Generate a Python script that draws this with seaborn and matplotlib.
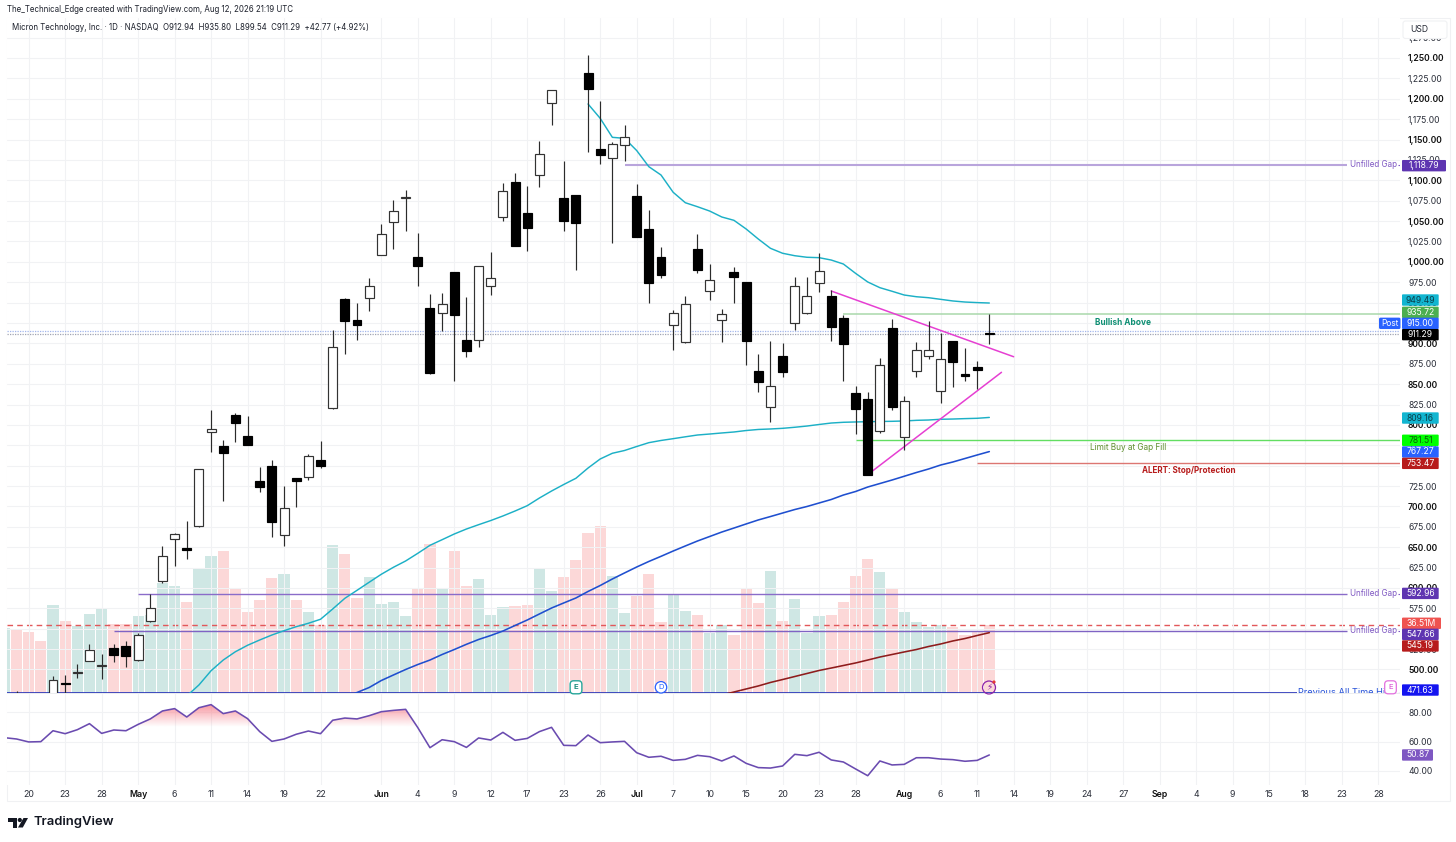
import numpy as np
import pandas as pd
import matplotlib
matplotlib.use("Agg")
import matplotlib.pyplot as plt
import seaborn as sns
from matplotlib.patches import FancyBboxPatch, Rectangle, Polygon, Circle
from matplotlib.path import Path
from matplotlib.transforms import IdentityTransform
from matplotlib.ticker import FixedLocator

# ---------- data ----------
first_day = -4
opens = [440,462,450,455,465,483,496.2,510.4,504.4,526,529.2,511.6,559.9,608.9,660.1,649.4,676,791.7,774.1,812.5,786.8,731.6,749.6,664.6,734.5,735.7,756.6,820.4,954.8,928.7,956,1008.4,1049.2,1078.4,1005.9,943.4,937.2,987.2,904.1,903.8,970.7,1054.6,1098.3,1059.9,1106.9,1195.2,1078.7,1081.6,1231.6,1138,1127,1143.7,1080.7,1040.3,1005.9,922.2,901.7,1015.7,964.2,928.3,987.5,974.9,866.1,821.6,884.5,924.6,937.2,974,957.7,931.5,839.1,831.8,792.9,918.8,785.5,865.7,884.1,842,902.5,862.4,871,912.94]
highs = [455,474,455,465,492,493.2,506.4,531.3,518.6,531,535,544.4,592.6,651.5,667,682.1,746.5,818.3,781.5,814.2,811,748.7,756.6,725.1,735,764.3,779.9,916.4,955.5,949.1,980.2,1046,1075.8,1088.1,1035,960.5,962.1,988,956.5,995.5,1011.7,1096.3,1109.3,1093,1147.8,1211,1123.3,1082,1253.7,1197.3,1147.3,1167.5,1095.5,1063.6,1017.8,940.9,958.1,1034.1,997,942.5,994,975.5,886.6,902.9,900.1,981.8,981.8,1010.5,965.8,934.8,847.7,840.7,881.7,929.9,835.8,901.7,927.8,912.3,903,894,878,935.8]
lows = [430,440,430,440,460,468,490,510,488.3,508.8,502.7,510.4,557.9,605.7,627.3,635.5,675,767.1,706.7,778.7,775,718.1,662.9,651.8,699.7,732.4,747.1,820,887.3,904.1,940.1,1008,1015.7,1037.8,970.7,863,915.5,854.2,882.9,895.2,959.7,1050.4,1019,1013.3,1092.2,1167.8,1038.2,990,1135.1,1120.4,1022.7,1124,1030,949.9,979.8,891.9,900.1,986.7,953.2,902,949.1,873.1,840.3,803.6,858.4,916.4,936,963.4,903.3,854.2,788.8,738,789.7,818.3,769.2,858.4,880.5,826.5,846.8,853.8,844,899.54]
closes = [450,455,445,450,486.7,482.6,496.8,524.3,505,517.8,516.6,542,575.8,639.6,665.8,646.2,745.9,794.6,765.5,802.3,775,723.8,680.9,698.4,731.2,761.5,750,895.2,927.4,922.5,970,1034.1,1062.7,1079,994.9,863.3,947.9,934.8,891,994.9,980.2,1086.5,1019.4,1041.9,1132.6,1210.4,1050.1,1047.3,1212,1131,1144.2,1152.7,1030.8,974.4,983.9,936.9,947.9,990.4,978.1,935.6,981.8,903.3,852.3,848.1,864.5,970,958.5,988.8,920.1,899.2,819.5,738.5,873.5,822.3,829,891.5,892.2,880.5,876.8,860.3,867.7,911.29]
volumes = [34.8,34.2,32.6,28.2,47.1,38.8,36.0,42.3,45.7,37.0,37.0,41.1,41.8,58.6,57.0,48.7,66.8,72.8,75.6,56.1,43.2,49.7,61.5,63.3,49.9,43.4,36.5,78.7,74.2,50.8,62.1,47.8,48.7,41.1,56.2,79.2,55.5,75.5,57.0,60.8,41.8,45.9,46.6,47.1,66.5,54.3,61.7,70.9,85.3,89.0,62.4,43.0,52.0,63.5,38.1,52.2,43.9,42.0,32.4,36.3,31.4,56.1,48.0,65.1,38.6,50.4,32.4,41.1,41.8,48.7,62.6,71.6,64.7,55.9,43.4,38.2,35.6,36.5,35.3,31.2,32.8,36.51]
rsi_values = [62.6,61.7,59.7,59.9,67.3,65.3,68.0,72.1,65.5,67.8,67.3,71.6,75.3,80.7,82.3,76.6,82.9,85.0,78.9,80.7,75.5,66.7,60.1,61.7,64.9,67.1,65.3,74.4,75.9,75.3,77.5,80.2,81.1,81.8,69.4,55.8,61.2,59.9,56.0,62.4,61.0,66.2,60.8,62.1,66.7,69.6,57.4,57.2,64.4,59.2,59.7,60.1,52.4,49.3,50.0,47.2,47.9,50.6,49.7,46.8,50.2,45.2,42.3,42.0,43.4,51.3,50.4,52.7,47.5,46.1,41.4,36.8,46.8,44.1,44.5,49.0,49.0,48.1,47.7,46.6,47.2,50.87]

ma_short_start = 44
ma_short = [1193.6,1176,1152.7,1151.5,1136.5,1116.7,1106.5,1085.3,1072.5,1067.6,1062.3,1055,1050.9,1040.3,1028,1016.6,1010.5,1007.5,1005.6,1005.1,1002.2,997.3,985.9,975.3,968.3,963.9,959.3,957.2,956,954,952,950.7,950,949.49]
ma_mid_start = 11
ma_mid = [467.5,481,498.5,511.6,521.8,529.7,536.2,542.3,547.6,552.5,556.7,561.6,574.2,587.3,597.1,607,616.8,625.4,633.1,642.5,652.3,659.2,666.2,672.3,677.6,682.7,688.3,694.4,700.9,710.3,718.9,726.9,734.5,747.1,758.2,765.2,768.6,773.5,778.2,780.9,783.1,785.4,787.6,788.8,790.1,791.3,793.1,794.4,795,795.8,797.1,798.6,800.5,802.3,803.2,803.6,803.9,804.2,804.4,804.8,805.6,806,806.9,807.2,807.7,808.1,809.16]
ma_long_start = 24
ma_long = [465,471.8,477.9,486.5,493.3,500,506.1,511.6,518.4,524.5,530.9,536.8,541.7,547.2,554,560.7,568.1,575.4,581.6,587.7,595.7,603,611,618.4,625.7,632.5,638.8,645.3,651.5,657.6,663.1,668.6,673.5,678.5,683.4,687.6,691.9,696.2,699.9,704.2,708.5,714,718.3,723.8,728.1,732.4,737,741.6,745.9,750.8,754.5,758.8,763.1,767.27]
ma_vol_start = 55
ma_vol = [468.7,472.4,476.1,479.8,484.1,487.7,491.4,495.1,498.8,501.8,504.9,508,511.6,515.3,518.4,521.5,524.5,528.2,531.3,535,538,541.7,545.19]

tick_days = [-2,1,4,7,10,13,16,19,22,27,30,33,36,39,42,45,48,51,54,57,60,63,66,70,73,76,79,82,85,88,91,94,97,100,103,106,109]
tick_labels = ['20','23','28','May','6','11','14','19','22','Jun','4','9','12','17','23','26','Jul','7','10','15','20','23','28','Aug','6','11','14','19','24','27','Sep','4','9','15','18','23','28']
month_labels = ['May','Jun','Jul','Aug','Sep']
price_ticks = list(range(500, 1300, 25))
rsi_ticks = [40, 60, 80]

trend_upper_days, trend_upper = [64, 79], [964.2, 883.6]
trend_lower_days, trend_lower = [67, 78], [739.0, 864.5]

gap_high, gap_mid, gap_low, ath = 1118.79, 592.96, 547.66, 471.63
bullish, limit_buy, alert = 935.72, 781.51, 753.47
post_price, last_price = 915.00, 911.29
avg_volume = 36.51

# ---------- theme ----------
sns.set_theme(style="white")
plt.rcParams['font.family'] = ['Inter', 'DejaVu Sans']
W, H = 1456, 842
GRID = '#F1F2F4'
TXT = '#2A2E39'
CANDLE_EDGE = '#2B2B2B'
fig = plt.figure(figsize=(W/100, H/100), dpi=100, facecolor='white')

def box(l, t, r, b):
    return [l/W, 1-b/H, (r-l)/W, (b-t)/H]

L, R, T, B, RSI_B = 7, 1400, 18, 693, 785
ax_vol = fig.add_axes(box(L, T, R, B), zorder=1)
ax = fig.add_axes(box(L, T, R, B), zorder=2, sharex=ax_vol)
ax_rsi = fig.add_axes(box(L, B+1, R, RSI_B), zorder=2)
ax.patch.set_alpha(0)

days = np.arange(first_day, first_day + len(closes))
df = pd.DataFrame(dict(day=days, open=opens, high=highs, low=lows, close=closes,
                       volume=volumes, rsi=rsi_values))
df['up'] = df.close >= df.open
xlim = ((L-53)/12.16, (R-53)/12.16)

# volume
df['dir'] = np.where(df.up, 'up', 'down')
sns.barplot(data=df, x='day', y='volume', hue='dir', native_scale=True, dodge=False,
            palette={'up': '#CFE7E4', 'down': '#FCD8D8'}, saturation=1, width=0.92,
            legend=False, ax=ax_vol)
for bar in ax_vol.patches:
    mid = bar.get_x() + bar.get_width()/2
    bar.set_width(0.92)
    bar.set_x(mid - 0.46)
    bar.set_linewidth(0)
ax_vol.set_ylim(0.529, 357.6)
ax_vol.axhline(avg_volume, color='#E2575A', lw=1, ls=(0, (4, 3)))
ax_vol.set_xlabel(''); ax_vol.set_ylabel('')
ax_vol.set_yticks([]); ax_vol.tick_params(labelbottom=False, bottom=False)

# price axis
ax.set_ylim(1250-(B-58)*1.2265, 1250+(58-T)*1.2265)
ax.yaxis.tick_right()
ax.set_yticks(price_ticks)
ax.set_yticklabels([f'{p:,.2f}' for p in price_ticks], fontsize=6.2, color=TXT, ha='left')
for lab, p in zip(ax.get_yticklabels(), price_ticks):
    if p % 50 == 0:
        lab.set_fontweight('semibold'); lab.set_color('#111111')
ax.tick_params(axis='y', length=0, pad=5.8)
ax.tick_params(axis='x', labelbottom=False, bottom=False)
ax.xaxis.set_major_locator(FixedLocator(tick_days))
ax.grid(True, color=GRID, lw=0.75, zorder=0)
ax.set_axisbelow(True)

# reference lines
ax.hlines(gap_high, 47, 106.4, color='#B9A5DC', lw=1.5, zorder=2)
ax.hlines(gap_mid, 7, 106.4, color='#8A6CC9', lw=1.0, zorder=2)
ax.hlines(gap_low, 5, 106.4, color='#7F63C4', lw=1.0, zorder=2)
ax.hlines(ath, xlim[0], 102.3, color='#2430B8', lw=1.2, zorder=2)
ax.hlines(bullish, 65, xlim[1], color='#A9D8AB', lw=1.1, zorder=2)
ax.hlines(limit_buy, 66, xlim[1], color='#62DE62', lw=1.0, zorder=2)
ax.hlines(alert, 76, xlim[1], color='#DC7672', lw=1.0, zorder=2)
ax.hlines(post_price, *xlim, color='#A3B6EC', lw=0.9, ls=(0, (1, 1)), zorder=2)
ax.hlines(last_price, *xlim, color='#A0A4B2', lw=0.9, ls=(0, (1, 1)), zorder=2)

# moving averages and trend lines
for start, vals, col, lw in [(ma_short_start, ma_short, '#1CB0C6', 1.05),
                             (ma_mid_start, ma_mid, '#1CB0C6', 1.05),
                             (ma_long_start, ma_long, '#1F4FCF', 1.15),
                             (ma_vol_start, ma_vol, '#8E1C1C', 1.15)]:
    sns.lineplot(x=np.arange(start, start+len(vals)), y=vals, color=col, lw=lw,
                 errorbar=None, ax=ax, zorder=2.5, legend=False)
ax.plot(trend_upper_days, trend_upper, color='#E63FD2', lw=1.1, zorder=2.5)
ax.plot(trend_lower_days, trend_lower, color='#E63FD2', lw=1.1, zorder=2.5)

# candles
ax.vlines(df.day, df.low, df.high, color=CANDLE_EDGE, lw=0.85, zorder=3)
bot = df[['open', 'close']].min(axis=1)
hgt = (df.close-df.open).abs()
ax.bar(df.day, hgt, bottom=bot, width=0.74,
       color=np.where(df.up, 'white', 'black'),
       edgecolor=np.where(df.up, '#333333', 'black'), lw=0.85, zorder=3.2)

ax.set_xlabel(''); ax.set_ylabel('')
ax.set_xlim(*xlim)
ax_vol.set_xlim(*xlim)

# annotations on the lines
def note(day, price, s, color, weight='normal', ha='right', size=5.8, dy=0, va='center'):
    return ax.annotate(s, (day, price), xytext=(0, dy), textcoords='offset pixels', color=color,
                       fontsize=size, fontweight=weight, ha=ha, va=va, zorder=4)
for p in (gap_high, gap_mid, gap_low):
    note(110.5, p, 'Unfilled Gap', '#7E57C2')
    ax.hlines(p, 110.6, xlim[1], color='#7E57C2', lw=0.8)
t = note(110.5, ath, 'Previous All Time High', '#2450D8', size=6.6, dy=0)
t.set_clip_path(Rectangle((0, H-696), W, H, transform=IdentityTransform()))
t.set_clip_on(True)
ax.hlines(ath, 110.6, xlim[1], color='#2430B8', lw=0.8)
note(88, bullish, 'Bullish Above', '#0E8F73', weight='bold', ha='center', dy=-8, size=6.0)
note(88.4, limit_buy, 'Limit Buy at Gap Fill', '#5F8F2E', ha='center', dy=-8, size=5.9)
note(93.4, alert, 'ALERT: Stop/Protection', '#B71C1C', weight='bold', ha='center', dy=-8, size=5.85)

# RSI pane
sns.lineplot(data=df, x='day', y='rsi', color='#6A4BB0', lw=1.15, errorbar=None, ax=ax_rsi, zorder=3)
ax_rsi.set_ylim(80-(RSI_B-712)/1.475, 80+(712-(B+1))/1.475)
ax_rsi.set_xlim(*xlim)
fill = ax_rsi.fill_between(df.day, df.rsi, 70, where=df.rsi >= 70, interpolate=True, color='none')
grad = np.ones((64, 2, 4))
grad[..., :3] = matplotlib.colors.to_rgb('#F7808C')
grad[..., 3] = np.linspace(0.85, 0, 64)[:, None]
im = ax_rsi.imshow(grad, extent=[xlim[0], xlim[1], 70, 86], aspect='auto', origin='upper', zorder=2)
im.set_clip_path(Path.make_compound_path(*fill.get_paths()), transform=ax_rsi.transData)
ax_rsi.set_ylim(80-(RSI_B-712)/1.475, 80+(712-(B+1))/1.475)
ax_rsi.set_xlim(*xlim)
ax_rsi.yaxis.tick_right()
ax_rsi.set_yticks(rsi_ticks)
ax_rsi.set_yticklabels([f'{v:.2f}' for v in rsi_ticks], fontsize=6.2, color=TXT, ha='left')
ax_rsi.tick_params(axis='y', length=0, pad=5.8)
ax_rsi.set_xticks(tick_days)
ax_rsi.set_xticklabels(tick_labels, fontsize=6.3, color=TXT)
for lab in ax_rsi.get_xticklabels():
    if lab.get_text() in month_labels:
        lab.set_fontweight('semibold'); lab.set_color('#111111')
ax_rsi.tick_params(axis='x', length=0, pad=3.6)
ax_rsi.grid(True, color=GRID, lw=0.75, zorder=0)
ax_rsi.set_axisbelow(True)
ax_rsi.set_xlabel(''); ax_rsi.set_ylabel('')

for a in (ax, ax_vol, ax_rsi):
    for s in a.spines.values():
        s.set_visible(False)

# ---------- chrome, in pixel coordinates ----------
ID = IdentityTransform()
def ptext(x, y, s, **kw):
    kw.setdefault('va', 'center')
    kw.setdefault('transform', ID)
    return fig.text(x, H-y, s, **kw)
def pbox(l, t, r, b, fc, ec='none', z=5, rs=1.5, lw=0.8):
    p = FancyBboxPatch((l, H-b), r-l, b-t, boxstyle=f'round,pad=0,rounding_size={rs}',
                       fc=fc, ec=ec, lw=lw, transform=ID, zorder=z)
    fig.add_artist(p)

# pane border
fig.add_artist(Rectangle((L, H-801), 1450-L, 783, fc='none', ec='#F0F1F3', lw=0.8, transform=ID, zorder=0.5))
fig.add_artist(Rectangle((L, H-B-1), R-L, 0.8, fc='#ECEDEF', ec='none', transform=ID, zorder=3))

ptext(7, 10, 'The_Technical_Edge created with TradingView.com, Aug 12, 2026 21:19 UTC', fontsize=5.7, color='#1E222D')
ptext(12, 28, 'Micron Technology, Inc. · 1D · NASDAQ  O912.94  H935.80  L899.54  C911.29  +42.77 (+4.92%)', fontsize=5.7, color='#1E222D')

pbox(1403, 21, 1447, 38.5, 'white', ec='#F0F1F3', z=5, rs=2.5)
ptext(1410, 29, 'USD', fontsize=6.2, color=TXT, zorder=6)

def price_y(a, v):
    return H - a.transData.transform((0, v))[1]

label_rows = [
    (ax, 1118.79, '1,118.79', '#5E35B1', 'white', 0.7, 44),
    (ax, 949.49, '949.49', '#12B5D0', '#0B3F4A', -3, 36.7),
    (ax, 935.72, '935.72', '#4CAF50', 'white', -1.9, 36.7),
    (ax, 915.00, '915.00', '#2962FF', 'white', -7.8, 36.7),
    (ax, 911.29, '911.29', '#000000', 'white', 0.5, 36.7),
    (ax, 809.16, '809.16', '#12B5D0', '#0B3F4A', 0.6, 36.7),
    (ax, 781.51, '781.51', '#00FF00', '#0A5A0A', 0.3, 36.7),
    (ax, 767.27, '767.27', '#2962FF', 'white', 0.4, 36.7),
    (ax, 753.47, '753.47', '#B71C1C', 'white', 0.5, 36.7),
    (ax, 592.96, '592.96', '#5E35B1', 'white', -0.3, 36.7),
    (ax_vol, 36.51, '36.51M', '#EF5350', 'white', -1.7, 39),
    (ax, 547.66, '547.66', '#5E35B1', 'white', 3.7, 36.7),
    (ax, 545.19, '545.19', '#B71C1C', 'white', 13.3, 36.7),
    (ax, 471.63, '471.63', '#1414F0', 'white', -2.6, 36.7),
    (ax_rsi, 50.87, '50.87', '#7E57C2', 'white', 0, 31),
]
for a, v, s, bg, fg, dy, w in label_rows:
    yc = price_y(a, v) + dy
    pbox(1402, yc-5.7, 1402+w, yc+5.7, bg, z=6, rs=1)
    ptext(1402+w/2, yc, s, fontsize=6.2, color=fg, ha='center', zorder=7)

yc = price_y(ax, post_price) - 7.8
pbox(1379, yc-5.7, 1400.5, yc+5.7, '#2962FF', z=6, rs=1.5)
ptext(1389.7, yc, 'Post', fontsize=6, color='white', ha='center', zorder=7)

# event markers
ptext(576, 687.3, 'E', fontsize=5.6, color='#1E8E7E', ha='center', zorder=7, fontweight='bold',
      bbox=dict(boxstyle='round,pad=0.45', fc='white', ec='#26A69A', lw=1))
ptext(661, 687.3, 'D', fontsize=5.6, color='#2962FF', ha='center', zorder=7,
      bbox=dict(boxstyle='circle,pad=0.35', fc='white', ec='#2962FF', lw=0.9))
ptext(989, 687.5, '\u26A1', fontsize=6.5, color='#8E24AA', ha='center', zorder=7,
      bbox=dict(boxstyle='circle,pad=0.22', fc='none', ec='#8E24AA', lw=0.9))
fig.add_artist(Circle((994, H-682), 1.6, fc='#E53935', ec='none', transform=ID, zorder=8))
ptext(1390.5, 687.3, 'E', fontsize=5.6, color='#D63FD0', ha='center', zorder=7,
      bbox=dict(boxstyle='round,pad=0.45', fc='white', ec='#E26FDE', lw=0.9))

# TradingView logo
logo = '#131722'
for pts in ([(8, 818), (16.5, 818), (16.5, 827.5), (12.5, 827.5), (12.5, 821.6), (8, 821.6)],
            [(23.5, 818), (28, 818), (22.8, 827.5), (18, 827.5)]):
    fig.add_artist(Polygon([(x, H-y) for x, y in pts], closed=True, fc=logo, ec='none', transform=ID, zorder=5))
fig.add_artist(Circle((19.8, H-820), 2.1, fc=logo, ec='none', transform=ID, zorder=5))
ptext(33, 822.5, 'TradingView', fontsize=9.4, color=logo, fontweight='semibold')

fig.savefig('out.png', dpi=100)
